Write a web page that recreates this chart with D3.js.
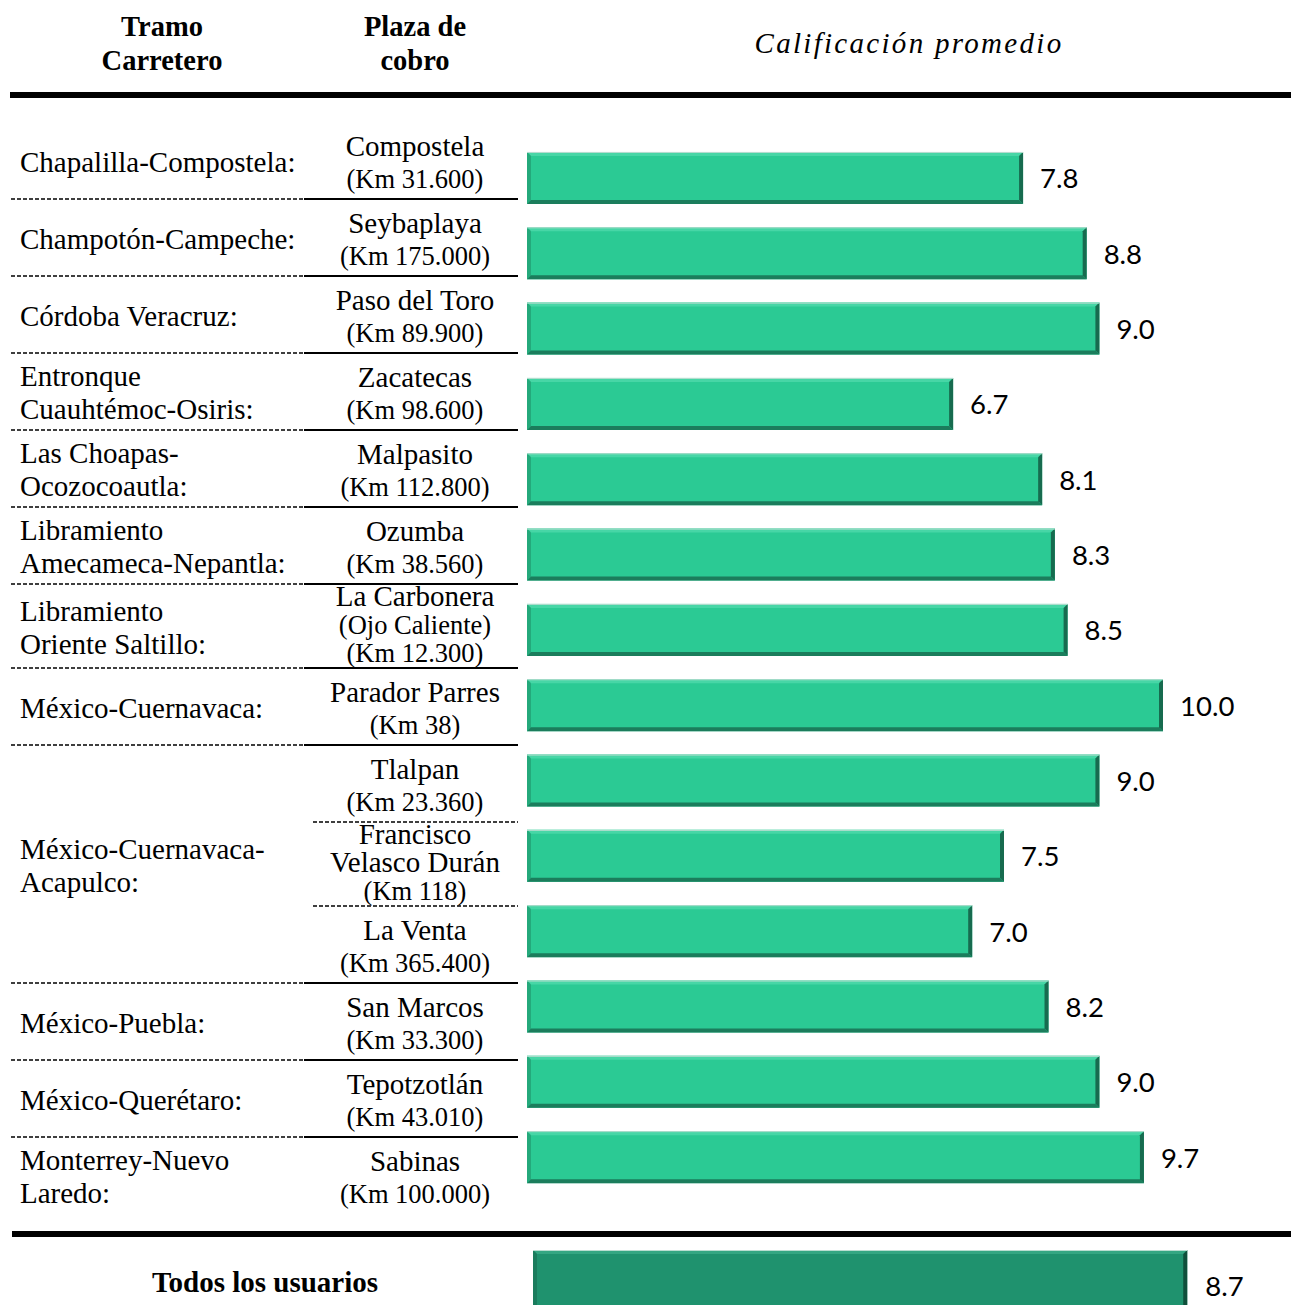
<!DOCTYPE html>
<html>
<head>
<meta charset="utf-8">
<script src="https://cdn.jsdelivr.net/npm/d3@7"></script>
<style>
  body { margin: 0; background: #fff; }
  svg text { fill: #000; }
</style>
</head>
<body>
<svg id="chart"></svg>
<script>
// data
var tramos = ["Chapalilla-Compostela:", "Champotón-Campeche:", "Córdoba Veracruz:",
    "Entronque\nCuauhtémoc-Osiris:", "Las Choapas-\nOcozocoautla:", "Libramiento\nAmecameca-Nepantla:",
    "Libramiento\nOriente Saltillo:", "México-Cuernavaca:", "México-Cuernavaca-\nAcapulco:",
    "México-Cuernavaca-\nAcapulco:", "México-Cuernavaca-\nAcapulco:", "México-Puebla:",
    "México-Querétaro:", "Monterrey-Nuevo\nLaredo:"];
var plazas = ["Compostela", "Seybaplaya", "Paso del Toro", "Zacatecas", "Malpasito", "Ozumba",
    "La Carbonera\n(Ojo Caliente)", "Parador Parres", "Tlalpan", "Francisco\nVelasco Durán",
    "La Venta", "San Marcos", "Tepotzotlán", "Sabinas"];
var kms = ["(Km 31.600)", "(Km 175.000)", "(Km 89.900)", "(Km 98.600)", "(Km 112.800)", "(Km 38.560)",
    "(Km 12.300)", "(Km 38)", "(Km 23.360)", "(Km 118)", "(Km 365.400)", "(Km 33.300)",
    "(Km 43.010)", "(Km 100.000)"];
var calificacion = [7.8, 8.8, 9.0, 6.7, 8.1, 8.3, 8.5, 10.0, 9.0, 7.5, 7.0, 8.2, 9.0, 9.7];
var totalLabel = "Todos los usuarios";
var totalValue = 8.7;

var width = 1291, height = 1305;
var serif = "'Liberation Serif', 'Times New Roman', serif";
var sans = "Lato, 'Open Sans', sans-serif";

var svg = d3.select("#chart")
    .attr("width", width)
    .attr("height", height)
    .style("display", "block");

// bevelled bar like the Office 3D bars
function bevelBar(g, x0, y0, w, h, c) {
    var b = 4;
    g.append("rect").attr("x", x0).attr("y", y0).attr("width", w).attr("height", h).attr("fill", c.main);
    g.append("polygon").attr("fill", c.top)
        .attr("points", [[x0, y0], [x0 + w, y0], [x0 + w - b, y0 + b], [x0 + b, y0 + b]].join(" "));
    g.append("polygon").attr("fill", c.left)
        .attr("points", [[x0, y0], [x0 + b, y0 + b], [x0 + b, y0 + h - b], [x0, y0 + h]].join(" "));
    g.append("polygon").attr("fill", c.right)
        .attr("points", [[x0 + w, y0], [x0 + w, y0 + h], [x0 + w - b, y0 + h - b], [x0 + w - b, y0 + b]].join(" "));
    g.append("polygon").attr("fill", c.bottom)
        .attr("points", [[x0, y0 + h], [x0 + b, y0 + h - b], [x0 + w - b, y0 + h - b], [x0 + w, y0 + h]].join(" "));
    g.append("line").attr("x1", x0).attr("x2", x0 + w).attr("y1", y0 + 0.5).attr("y2", y0 + 0.5)
        .attr("stroke", "#b9ddd0").attr("stroke-width", 1);
}

var green = { main: "#2bca94", top: "#47d6a6", left: "#24a97b", right: "#176b4f", bottom: "#1b7d5c" };
var dark = { main: "#1f926e", top: "#34a682", left: "#1a7c5d", right: "#0f4f3b", bottom: "#135d46" };

// header
var head = svg.append("g").attr("font-family", serif).attr("font-size", 28.5);
[["Tramo", "Carretero", 162], ["Plaza de", "cobro", 415]].forEach(function (d) {
    head.append("text").attr("x", d[2]).attr("y", 36).attr("text-anchor", "middle")
        .attr("font-weight", "bold").text(d[0]);
    head.append("text").attr("x", d[2]).attr("y", 70).attr("text-anchor", "middle")
        .attr("font-weight", "bold").text(d[1]);
});
head.append("text").attr("x", 909).attr("y", 53).attr("text-anchor", "middle")
    .attr("font-style", "italic").attr("font-size", 29).attr("letter-spacing", 2.3)
    .text("Calificación promedio");

svg.append("line").attr("x1", 10).attr("x2", width).attr("y1", 95).attr("y2", 95)
    .attr("stroke", "#000").attr("stroke-width", 6);

// table rows: height depends on number of lines in the plaza cell
var tops = [];
var acc = 122;
plazas.forEach(function (p) {
    var n = p.split("\n").length + 1;
    var h = n > 2 ? 84 : 77;
    tops.push({ y: acc, h: h });
    acc += h;
});

var table = svg.append("g").attr("font-family", serif);

function lines(g, x, cy, arr, spacing, offset, anchor) {
    var n = arr.length;
    arr.forEach(function (t, i) {
        var small = t.charAt(0) === "(";
        g.append("text")
            .attr("x", x)
            .attr("y", cy + offset + (i - (n - 1) / 2) * spacing)
            .attr("text-anchor", anchor)
            .attr("font-size", small ? 26.5 : 29)
            .text(t);
    });
}

// plaza cells
plazas.forEach(function (p, i) {
    var arr = p.split("\n").concat([kms[i]]);
    var cy = tops[i].y + tops[i].h / 2;
    if (arr.length > 2) lines(table, 415, cy, arr, 27.8, 8, "middle");
    else lines(table, 415, cy, arr, 32, 11, "middle");
});

// tramo cells, merged where consecutive
var groups = [];
tramos.forEach(function (t, i) {
    var last = groups[groups.length - 1];
    if (last && last.label === t) last.end = i;
    else groups.push({ label: t, start: i, end: i });
});
groups.forEach(function (g) {
    var y0 = tops[g.start].y, y1 = tops[g.end].y + tops[g.end].h;
    lines(table, 20, (y0 + y1) / 2, g.label.split("\n"), 33, 11, "start");
});

// separators
tramos.forEach(function (t, i) {
    if (i === 0) return;
    var y = tops[i].y;
    if (tramos[i - 1] === t) {
        table.append("line").attr("x1", 313).attr("x2", 518).attr("y1", y).attr("y2", y)
            .attr("stroke", "#000").attr("stroke-width", 1.5).attr("stroke-dasharray", "4,2");
    } else {
        table.append("line").attr("x1", 11).attr("x2", 304).attr("y1", y).attr("y2", y)
            .attr("stroke", "#000").attr("stroke-width", 1.5).attr("stroke-dasharray", "4,2");
        table.append("line").attr("x1", 304).attr("x2", 518).attr("y1", y).attr("y2", y)
            .attr("stroke", "#000").attr("stroke-width", 2.2);
    }
});

// bars
var x = d3.scaleLinear().domain([0, 10]).range([527, 1163]);
var y = d3.scaleBand().domain(d3.range(calificacion.length))
    .range([140.3, 1194.8]).paddingInner(0.31).paddingOuter(0.155);

var bars = svg.append("g");
calificacion.forEach(function (v, i) {
    bevelBar(bars, x(0), y(i), x(v) - x(0), y.bandwidth(), green);
});
bars.selectAll("text.val")
    .data(calificacion)
    .join("text")
    .attr("class", "val")
    .attr("x", function (d) { return x(d) + 17; })
    .attr("y", function (d, i) { return y(i) + y.bandwidth() / 2 + 10.5; })
    .attr("font-family", sans)
    .attr("font-size", 27.5)
    .text(function (d) { return d3.format(".1f")(d); });

// total
svg.append("line").attr("x1", 12).attr("x2", width).attr("y1", 1234).attr("y2", 1234)
    .attr("stroke", "#000").attr("stroke-width", 6);

var xt = d3.scaleLinear().domain([0, 10]).range([533, 1285]);
var tot = svg.append("g");
bevelBar(tot, xt(0), 1250, xt(totalValue) - xt(0), 70, dark);
tot.append("text").attr("x", xt(totalValue) + 18).attr("y", 1296)
    .attr("font-family", sans).attr("font-size", 27.5).text(d3.format(".1f")(totalValue));
tot.append("text").attr("x", 265).attr("y", 1292).attr("text-anchor", "middle")
    .attr("font-family", serif).attr("font-weight", "bold").attr("font-size", 29)
    .text(totalLabel);
</script>
</body>
</html>
